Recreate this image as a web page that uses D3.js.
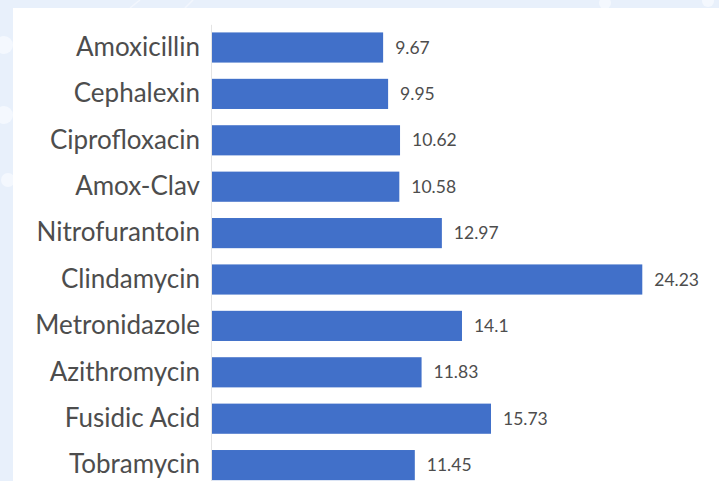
<html>
<head>
  <title>Antibiotics</title>
  <script src="https://d3js.org/d3.v7.min.js"></script>
  <style>
    html, body { margin:0; padding:0; overflow:hidden; background:#e8f0fb }
    svg { display:block }
  </style>
</head>
<body>
<div class="chart"></div>
<script>

  var drugs = ["Amoxicillin", "Cephalexin", "Ciprofloxacin", "Amox-Clav", "Nitrofurantoin",
               "Clindamycin", "Metronidazole", "Azithromycin", "Fusidic Acid", "Tobramycin"];
  var values = [9.67, 9.95, 10.62, 10.58, 12.97, 24.23, 14.1, 11.83, 15.73, 11.45];
  var valueLabels = ["9.67", "9.95", "10.62", "10.58", "12.97", "24.23", "14.1", "11.83", "15.73", "11.45"];

  var W = 719, H = 481;

  var svg = d3.select("div.chart").append("svg")
    .attr("width", W)
    .attr("height", H);

  // faint backdrop pattern behind the white panel
  var deco = svg.append("g").attr("fill", "#f4f8fe").attr("stroke", "#f2f6fd");
  deco.append("circle").attr("cx", 4).attr("cy", 45).attr("r", 9).attr("stroke", "none");
  deco.append("circle").attr("cx", 4).attr("cy", 115).attr("r", 9).attr("stroke", "none");
  deco.append("circle").attr("cx", 8).attr("cy", 180).attr("r", 7).attr("stroke", "none");
  deco.append("line").attr("x1", 130).attr("y1", 8).attr("x2", 140).attr("y2", 0).attr("stroke-width", 1.5);
  deco.append("line").attr("x1", 185).attr("y1", 8).attr("x2", 193).attr("y2", 0).attr("stroke-width", 1.5);
  deco.append("circle").attr("cx", 605).attr("cy", 3).attr("r", 6).attr("stroke", "none");
  deco.append("circle").attr("cx", 708).attr("cy", 1).attr("r", 6).attr("stroke", "none");

  svg.append("rect")
    .attr("x", 13).attr("y", 8)
    .attr("width", W - 13).attr("height", H - 8)
    .attr("fill", "#ffffff");

  var y = d3.scaleBand()
    .domain(drugs)
    .range([24.3, 488.3])
    .paddingInner(0.35)
    .paddingOuter(0.175);

  var x = d3.scaleLinear()
    .domain([0, 25])
    .range([211, 656]);

  var g = svg.append("g");

  g.selectAll("rect.bar")
    .data(values)
    .enter().append("rect")
    .attr("class", "bar")
    .attr("x", x(0))
    .attr("y", function(d, i) { return y(drugs[i]); })
    .attr("width", function(d) { return x(d) - x(0); })
    .attr("height", y.bandwidth())
    .attr("fill", "#4170c9");

  g.selectAll("text.val")
    .data(values)
    .enter().append("text")
    .attr("class", "val")
    .attr("x", function(d) { return x(d) + 12; })
    .attr("y", function(d, i) { return y(drugs[i]) + y.bandwidth() / 2; })
    .attr("dy", "0.35em")
    .attr("fill", "#4d4d4d")
    .style("font-family", "Lato, sans-serif")
    .style("font-size", "17.5px")
    .text(function(d, i) { return valueLabels[i]; });

  var axis = svg.append("g")
    .attr("transform", "translate(" + x(0) + ",0)")
    .call(d3.axisLeft(y).tickSize(0).tickPadding(11));

  axis.select(".domain").attr("stroke", "#e4e4e4");
  axis.selectAll("text")
    .attr("fill", "#4d4d4d")
    .style("font-family", "Lato, sans-serif")
    .style("font-size", "26px");

</script>
</body>
</html>
